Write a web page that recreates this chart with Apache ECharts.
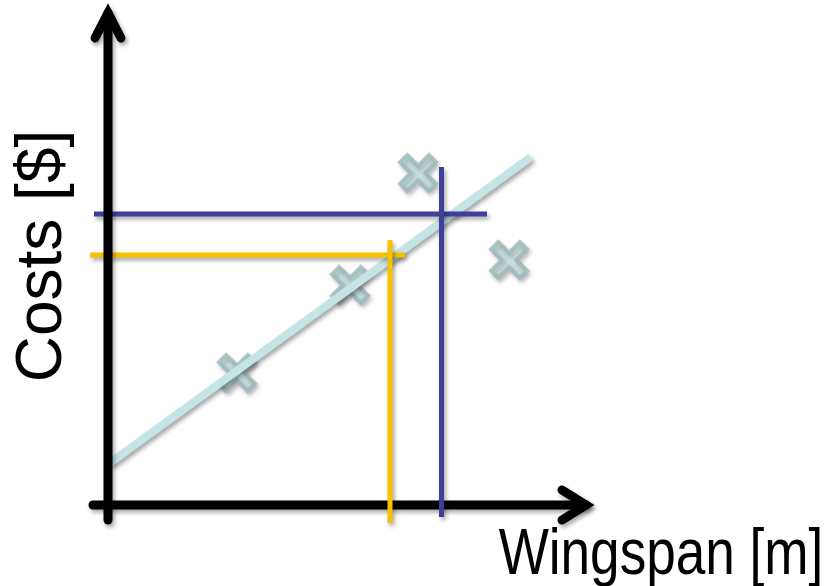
<!DOCTYPE html>
<html>
<head>
<meta charset="utf-8">
<script src="https://cdn.jsdelivr.net/npm/echarts@6/dist/echarts.min.js"></script>
<style>html,body{margin:0;padding:0;background:#fff;}#c{width:829px;height:586px;}</style>
</head>
<body>
<div id="c"></div>
<script>
// Data (x: wingspan units, y: cost units)
const samplePoints = [[2.58, 2.64], [4.84, 4.40], [6.20, 6.64], [8.02, 4.90]];
const regressionLine = [[0.04, 0.84], [8.46, 6.96]];
const yellowH = [[-0.36, 5.0], [5.94, 5.0]];
const yellowV = [[5.64, 5.3], [5.64, -0.36]];
const blueH = [[-0.28, 5.82], [7.58, 5.82]];
const blueV = [[6.67, 6.76], [6.67, -0.24]];
const xAxisLine = [[-0.3, 0], [9.56, 0]];
const xArrow = [[9.08, 0.3], [9.56, 0], [9.08, -0.3]];
const yAxisLine = [[0, -0.3], [0, 9.84]];
const yArrow = [[-0.26, 9.34], [0, 9.84], [0.26, 9.34]];
const xName = 'Wingspan [m]';
const yName = 'Costs [$]';

const chart = echarts.init(document.getElementById('c'), null, {renderer: 'canvas'});
const shadow = {shadowColor: 'rgba(0,0,0,0.35)', shadowBlur: 4, shadowOffsetX: 2, shadowOffsetY: 3};
function seg(data, color, width, z, extra) {
  return {
    type: 'line', data: data, z: z, showSymbol: false, symbol: 'none', silent: true,
    animation: false,
    lineStyle: Object.assign({color: color, width: width, cap: 'butt', join: 'miter'}, shadow, extra || {})
  };
}
const xShape = 'path://M0,2 L2,0 L5,3 L8,0 L10,2 L7,5 L10,8 L8,10 L5,7 L2,10 L0,8 L3,5 Z';

chart.setOption({
  animation: false,
  backgroundColor: '#ffffff',
  grid: {left: 83, top: 5, width: 525, height: 525},
  xAxis: {type: 'value', min: -0.5, max: 10, show: false},
  yAxis: {type: 'value', min: -0.5, max: 10, show: false},
  series: [
    seg(xAxisLine, '#000000', 9, 2, {cap: 'round'}),
    seg(xArrow, '#000000', 9, 2, {cap: 'round', join: 'miter'}),
    {
      type: 'scatter', data: samplePoints, z: 3, symbol: xShape, symbolSize: 36, silent: true,
      itemStyle: Object.assign({color: '#c8e4e4', borderColor: '#9cb9b9', borderWidth: 4}, {shadowColor: 'rgba(0,0,0,0.25)', shadowBlur: 4, shadowOffsetX: 2, shadowOffsetY: 3})
    },
    seg(regressionLine, '#c4e4e6', 8, 4),
    seg(yellowH, '#f7c200', 5, 5),
    seg(yellowV, '#f7c200', 5, 5),
    seg(blueH, '#3d3f99', 5, 5),
    seg(blueV, '#3d3f99', 5, 5),
    seg(yAxisLine, '#000000', 9, 6, {cap: 'round'}),
    seg(yArrow, '#000000', 9, 6, {cap: 'round', join: 'miter'})
  ],
  graphic: [
    {type: 'text', x: 661, y: 556, scaleX: 0.83, z: 10,
     style: {text: xName, font: '64px "Liberation Sans", Arial, sans-serif', fill: '#000', textAlign: 'center', textVerticalAlign: 'middle'}},
    {type: 'text', x: 43, y: 256, rotation: Math.PI / 2, z: 10,
     style: {text: yName, font: '64px "Liberation Sans", Arial, sans-serif', fill: '#000', textAlign: 'center', textVerticalAlign: 'middle'}}
  ]
});
</script>
</body>
</html>
